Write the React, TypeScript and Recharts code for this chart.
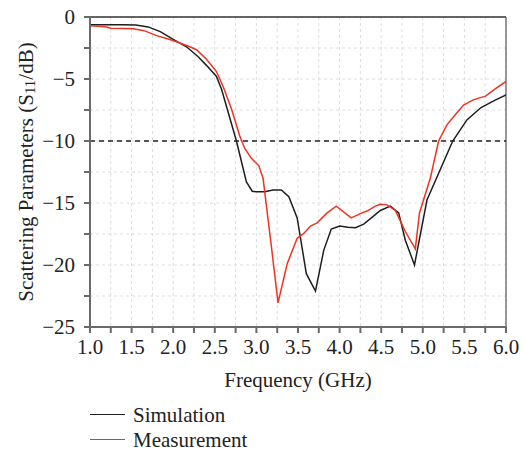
import React from 'react';
import {
    LineChart,
    Line,
    XAxis,
    YAxis,
    CartesianGrid,
    ReferenceLine,
} from 'recharts';

// frequency (GHz) and S11 (dB)
const simFreq = [1.0, 1.2, 1.4, 1.55, 1.7, 1.85, 2.0, 2.16, 2.3, 2.4, 2.52, 2.58, 2.64, 2.76, 2.88, 2.95, 3.0, 3.1, 3.2, 3.3, 3.39, 3.49, 3.6, 3.71, 3.81, 3.9, 4.0, 4.1, 4.19, 4.29, 4.4, 4.49, 4.61, 4.71, 4.79, 4.9, 5.05, 5.21, 5.36, 5.53, 5.7, 5.87, 6.0];
const simS11 = [-0.62, -0.62, -0.62, -0.65, -0.8, -1.2, -1.8, -2.4, -3.2, -3.9, -4.8, -5.8, -7.2, -10.0, -13.3, -14.05, -14.1, -14.1, -13.95, -13.95, -14.5, -16.2, -20.7, -22.1, -18.8, -17.1, -16.85, -16.95, -17.0, -16.7, -16.1, -15.6, -15.25, -15.8, -18.0, -20.0, -14.76, -12.3, -10.0, -8.3, -7.3, -6.7, -6.28];

const measFreq = [1.0, 1.1, 1.2, 1.25, 1.52, 1.65, 1.8, 1.95, 2.08, 2.2, 2.28, 2.4, 2.52, 2.6, 2.7, 2.8, 2.86, 2.94, 3.03, 3.08, 3.18, 3.26, 3.37, 3.49, 3.57, 3.65, 3.73, 3.85, 3.96, 4.14, 4.27, 4.33, 4.43, 4.49, 4.57, 4.67, 4.79, 4.91, 4.96, 5.09, 5.19, 5.29, 5.4, 5.49, 5.6, 5.69, 5.75, 5.87, 6.0];
const measS11 = [-0.7, -0.75, -0.8, -0.9, -0.95, -1.1, -1.5, -1.8, -2.1, -2.4, -2.64, -3.4, -4.4, -5.6, -7.4, -9.6, -10.6, -11.4, -12.0, -13.0, -18.5, -23.05, -19.9, -17.85, -17.45, -16.86, -16.6, -15.8, -15.25, -16.2, -15.8, -15.65, -15.25, -15.1, -15.15, -15.6, -17.3, -18.7, -15.8, -13.0, -10.0, -8.7, -7.8, -7.1, -6.7, -6.5, -6.4, -5.8, -5.2];

const xTicks = [1, 1.25, 1.5, 1.75, 2, 2.25, 2.5, 2.75, 3, 3.25, 3.5, 3.75, 4, 4.25, 4.5, 4.75, 5, 5.25, 5.5, 5.75, 6];
const yTicks = [0, -2.5, -5, -7.5, -10, -12.5, -15, -17.5, -20, -22.5, -25];
const threshold = -10;

const legendItems = [
    { name: 'Simulation', color: '#1e1e1e' },
    { name: 'Measurement', color: '#ee3322' },
];

const simData = simFreq.map((f, i) => ({ f, v: simS11[i] }));
const measData = measFreq.map((f, i) => ({ f, v: measS11[i] }));

const FONT = '"Liberation Serif", "DejaVu Serif", serif';
const FS = 21;

const fmtX = (v: number) => (Math.abs(v * 2 - Math.round(v * 2)) < 1e-6 ? v.toFixed(1) : '');
const fmtY = (v: number) => {
    if (v % 5 !== 0) return '';
    return v === 0 ? '0' : '\u2212' + Math.abs(v);
};

const YLabel = ({ viewBox }: any) => {
    const cx = 26;
    const cy = viewBox.y + viewBox.height / 2;
    return (
        <text
            x={cx}
            y={cy}
            transform={`rotate(-90, ${cx}, ${cy})`}
            textAnchor="middle"
            dominantBaseline="central"
            fontFamily={FONT}
            fontSize={FS}
            fill="#222"
        >
            Scattering Parameters (S
            <tspan dy={4} fontSize={15}>11</tspan>
            <tspan dy={-4}>/dB)</tspan>
        </text>
    );
};

const XLabel = ({ viewBox }: any) => (
    <text
        x={viewBox.x + viewBox.width / 2}
        y={387}
        textAnchor="middle"
        fontFamily={FONT}
        fontSize={FS}
        fill="#222"
    >
        Frequency (GHz)
    </text>
);

const App: React.FC = () => {
    return (
        <div style={{ position: 'absolute', left: 0, top: 0, width: 524, height: 453, background: '#fff', overflow: 'hidden' }}>
            <LineChart width={524} height={453} margin={{ top: 17, right: 18, left: 0, bottom: 86 }}>
                <CartesianGrid stroke="#dcdcdc" strokeDasharray="3 3" />
                <XAxis
                    type="number"
                    dataKey="f"
                    domain={[1, 6]}
                    ticks={xTicks}
                    tickFormatter={fmtX}
                    allowDataOverflow
                    height={40}
                    stroke="#6a6a6a"
                    strokeWidth={2}
                    tickSize={6}
                    tickMargin={6}
                    tick={{ fill: '#222', fontFamily: FONT, fontSize: FS }}
                    label={<XLabel />}
                />
                <YAxis
                    type="number"
                    dataKey="v"
                    domain={[-25, 0]}
                    ticks={yTicks}
                    tickFormatter={fmtY}
                    allowDataOverflow
                    width={90}
                    stroke="#6a6a6a"
                    strokeWidth={2}
                    tickSize={6}
                    tickMargin={9}
                    tick={{ fill: '#222', fontFamily: FONT, fontSize: FS }}
                    label={<YLabel />}
                />
                <ReferenceLine y={0} stroke="#333" strokeWidth={1.5} />
                <ReferenceLine x={6} stroke="#777" strokeWidth={1.5} />
                <ReferenceLine y={threshold} stroke="#222" strokeWidth={1.3} strokeDasharray="5 4" />
                <Line
                    data={simData}
                    dataKey="v"
                    name="Simulation"
                    type="linear"
                    stroke="#1e1e1e"
                    strokeWidth={1.5}
                    dot={false}
                    isAnimationActive={false}
                />
                <Line
                    data={measData}
                    dataKey="v"
                    name="Measurement"
                    type="linear"
                    stroke="#ee3322"
                    strokeWidth={1.5}
                    dot={false}
                    isAnimationActive={false}
                />
            </LineChart>
            <div
                style={{
                    position: 'absolute',
                    left: 90,
                    top: 402,
                    fontFamily: FONT,
                    fontSize: FS,
                    color: '#222',
                    lineHeight: '18px',
                }}
            >
                {legendItems.map((it) => (
                    <div key={it.name} style={{ display: 'flex', alignItems: 'center', height: 25 }}>
                        <div style={{ width: 35, height: 0, borderTop: `1.4px solid ${it.color}`, marginRight: 8 }} />
                        <span style={{ whiteSpace: 'nowrap' }}>{it.name}</span>
                    </div>
                ))}
            </div>
        </div>
    );
};

export default App;
